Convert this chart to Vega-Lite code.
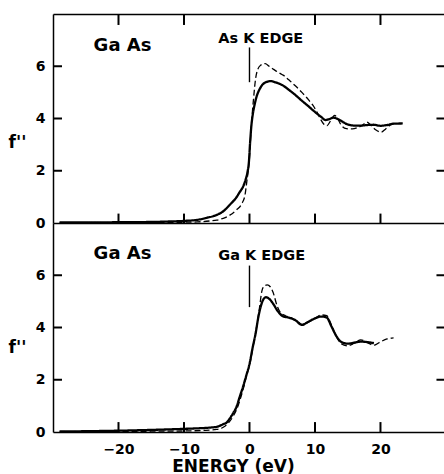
{
  "$schema": "https://vega.github.io/schema/vega-lite/v6.json",
  "background": "white",
  "padding": {"left": 8, "top": 13, "right": 0, "bottom": 0},
  "spacing": 0,
  "bounds": "flush",
  "config": {
    "view": {"stroke": null},
    "axis": {
      "domainColor": "black", "domainWidth": 1.5, "ticks": false,
      "grid": false, "labelFont": "DejaVu Sans", "labelFontWeight": "bold", "labelFontSize": 14,
      "labelColor": "black", "titleFont": "DejaVu Sans", "titleFontWeight": "bold", "titleColor": "black"
    }
  },
  "datasets": {
    "curves": [
      {"panel": "As", "series": "solid", "energy": -29, "f": 0.02},
      {"panel": "As", "series": "solid", "energy": -25, "f": 0.02},
      {"panel": "As", "series": "solid", "energy": -20, "f": 0.03},
      {"panel": "As", "series": "solid", "energy": -15, "f": 0.04},
      {"panel": "As", "series": "solid", "energy": -12, "f": 0.06},
      {"panel": "As", "series": "solid", "energy": -10, "f": 0.08},
      {"panel": "As", "series": "solid", "energy": -8, "f": 0.12},
      {"panel": "As", "series": "solid", "energy": -6.5, "f": 0.2},
      {"panel": "As", "series": "solid", "energy": -5, "f": 0.31},
      {"panel": "As", "series": "solid", "energy": -4, "f": 0.45},
      {"panel": "As", "series": "solid", "energy": -3, "f": 0.7},
      {"panel": "As", "series": "solid", "energy": -2, "f": 0.98},
      {"panel": "As", "series": "solid", "energy": -1.5, "f": 1.18},
      {"panel": "As", "series": "solid", "energy": -1, "f": 1.38},
      {"panel": "As", "series": "solid", "energy": -0.6, "f": 1.65},
      {"panel": "As", "series": "solid", "energy": -0.3, "f": 1.95},
      {"panel": "As", "series": "solid", "energy": -0.1, "f": 2.3},
      {"panel": "As", "series": "solid", "energy": 0.1, "f": 3.1},
      {"panel": "As", "series": "solid", "energy": 0.3, "f": 3.75},
      {"panel": "As", "series": "solid", "energy": 0.5, "f": 4.15},
      {"panel": "As", "series": "solid", "energy": 0.8, "f": 4.55},
      {"panel": "As", "series": "solid", "energy": 1.1, "f": 4.85},
      {"panel": "As", "series": "solid", "energy": 1.5, "f": 5.1},
      {"panel": "As", "series": "solid", "energy": 2, "f": 5.3},
      {"panel": "As", "series": "solid", "energy": 2.6, "f": 5.4},
      {"panel": "As", "series": "solid", "energy": 3.2, "f": 5.43},
      {"panel": "As", "series": "solid", "energy": 4, "f": 5.38},
      {"panel": "As", "series": "solid", "energy": 5, "f": 5.28},
      {"panel": "As", "series": "solid", "energy": 6, "f": 5.1},
      {"panel": "As", "series": "solid", "energy": 7, "f": 4.9},
      {"panel": "As", "series": "solid", "energy": 8, "f": 4.68},
      {"panel": "As", "series": "solid", "energy": 9, "f": 4.47},
      {"panel": "As", "series": "solid", "energy": 10, "f": 4.25},
      {"panel": "As", "series": "solid", "energy": 11, "f": 4.05},
      {"panel": "As", "series": "solid", "energy": 11.6, "f": 3.94},
      {"panel": "As", "series": "solid", "energy": 12.2, "f": 3.98},
      {"panel": "As", "series": "solid", "energy": 12.8, "f": 4.03},
      {"panel": "As", "series": "solid", "energy": 13.5, "f": 3.98},
      {"panel": "As", "series": "solid", "energy": 14.3, "f": 3.86},
      {"panel": "As", "series": "solid", "energy": 15, "f": 3.77},
      {"panel": "As", "series": "solid", "energy": 16, "f": 3.73},
      {"panel": "As", "series": "solid", "energy": 17, "f": 3.73},
      {"panel": "As", "series": "solid", "energy": 18, "f": 3.75},
      {"panel": "As", "series": "solid", "energy": 19, "f": 3.76},
      {"panel": "As", "series": "solid", "energy": 20, "f": 3.72},
      {"panel": "As", "series": "solid", "energy": 21, "f": 3.75},
      {"panel": "As", "series": "solid", "energy": 22, "f": 3.8},
      {"panel": "As", "series": "solid", "energy": 23.4, "f": 3.81},
      {"panel": "As", "series": "dashed", "energy": -29, "f": 0.0},
      {"panel": "As", "series": "dashed", "energy": -20, "f": 0.01},
      {"panel": "As", "series": "dashed", "energy": -15, "f": 0.02},
      {"panel": "As", "series": "dashed", "energy": -10, "f": 0.03},
      {"panel": "As", "series": "dashed", "energy": -8, "f": 0.04},
      {"panel": "As", "series": "dashed", "energy": -6, "f": 0.08},
      {"panel": "As", "series": "dashed", "energy": -5, "f": 0.11},
      {"panel": "As", "series": "dashed", "energy": -4, "f": 0.18},
      {"panel": "As", "series": "dashed", "energy": -3, "f": 0.3},
      {"panel": "As", "series": "dashed", "energy": -2, "f": 0.5},
      {"panel": "As", "series": "dashed", "energy": -1.2, "f": 0.73},
      {"panel": "As", "series": "dashed", "energy": -0.7, "f": 1.05},
      {"panel": "As", "series": "dashed", "energy": -0.4, "f": 1.6},
      {"panel": "As", "series": "dashed", "energy": -0.15, "f": 2.1},
      {"panel": "As", "series": "dashed", "energy": 0, "f": 2.5},
      {"panel": "As", "series": "dashed", "energy": 0.25, "f": 3.6},
      {"panel": "As", "series": "dashed", "energy": 0.6, "f": 4.7},
      {"panel": "As", "series": "dashed", "energy": 0.95, "f": 5.55},
      {"panel": "As", "series": "dashed", "energy": 1.3, "f": 5.9},
      {"panel": "As", "series": "dashed", "energy": 1.7, "f": 6.04},
      {"panel": "As", "series": "dashed", "energy": 2.4, "f": 6.1},
      {"panel": "As", "series": "dashed", "energy": 3, "f": 6.0},
      {"panel": "As", "series": "dashed", "energy": 3.7, "f": 5.88},
      {"panel": "As", "series": "dashed", "energy": 4.5, "f": 5.75},
      {"panel": "As", "series": "dashed", "energy": 5.2, "f": 5.65},
      {"panel": "As", "series": "dashed", "energy": 6, "f": 5.48},
      {"panel": "As", "series": "dashed", "energy": 7, "f": 5.25},
      {"panel": "As", "series": "dashed", "energy": 8, "f": 5.0},
      {"panel": "As", "series": "dashed", "energy": 9, "f": 4.72},
      {"panel": "As", "series": "dashed", "energy": 9.7, "f": 4.5},
      {"panel": "As", "series": "dashed", "energy": 10.3, "f": 4.25},
      {"panel": "As", "series": "dashed", "energy": 10.8, "f": 4.0},
      {"panel": "As", "series": "dashed", "energy": 11.3, "f": 3.8},
      {"panel": "As", "series": "dashed", "energy": 11.8, "f": 3.72},
      {"panel": "As", "series": "dashed", "energy": 12.4, "f": 3.92},
      {"panel": "As", "series": "dashed", "energy": 13, "f": 4.12},
      {"panel": "As", "series": "dashed", "energy": 13.5, "f": 3.98},
      {"panel": "As", "series": "dashed", "energy": 14, "f": 3.75},
      {"panel": "As", "series": "dashed", "energy": 14.8, "f": 3.61},
      {"panel": "As", "series": "dashed", "energy": 15.7, "f": 3.6},
      {"panel": "As", "series": "dashed", "energy": 16.5, "f": 3.65},
      {"panel": "As", "series": "dashed", "energy": 17.3, "f": 3.75},
      {"panel": "As", "series": "dashed", "energy": 17.9, "f": 3.86},
      {"panel": "As", "series": "dashed", "energy": 18.5, "f": 3.75},
      {"panel": "As", "series": "dashed", "energy": 19.2, "f": 3.58},
      {"panel": "As", "series": "dashed", "energy": 20.1, "f": 3.48},
      {"panel": "As", "series": "dashed", "energy": 20.8, "f": 3.6},
      {"panel": "As", "series": "dashed", "energy": 21.5, "f": 3.75},
      {"panel": "As", "series": "dashed", "energy": 22, "f": 3.8},
      {"panel": "Ga", "series": "solid", "energy": -29, "f": 0.02},
      {"panel": "Ga", "series": "solid", "energy": -25, "f": 0.03},
      {"panel": "Ga", "series": "solid", "energy": -20, "f": 0.05},
      {"panel": "Ga", "series": "solid", "energy": -15, "f": 0.08},
      {"panel": "Ga", "series": "solid", "energy": -10, "f": 0.12},
      {"panel": "Ga", "series": "solid", "energy": -8, "f": 0.14},
      {"panel": "Ga", "series": "solid", "energy": -6, "f": 0.17},
      {"panel": "Ga", "series": "solid", "energy": -5, "f": 0.2},
      {"panel": "Ga", "series": "solid", "energy": -4, "f": 0.3},
      {"panel": "Ga", "series": "solid", "energy": -3.5, "f": 0.36},
      {"panel": "Ga", "series": "solid", "energy": -3, "f": 0.52},
      {"panel": "Ga", "series": "solid", "energy": -2.5, "f": 0.72},
      {"panel": "Ga", "series": "solid", "energy": -2, "f": 0.95},
      {"panel": "Ga", "series": "solid", "energy": -1.5, "f": 1.34},
      {"panel": "Ga", "series": "solid", "energy": -1, "f": 1.72},
      {"panel": "Ga", "series": "solid", "energy": -0.5, "f": 2.15},
      {"panel": "Ga", "series": "solid", "energy": 0, "f": 2.6},
      {"panel": "Ga", "series": "solid", "energy": 0.5, "f": 3.25},
      {"panel": "Ga", "series": "solid", "energy": 0.9, "f": 3.72},
      {"panel": "Ga", "series": "solid", "energy": 1.4, "f": 4.46},
      {"panel": "Ga", "series": "solid", "energy": 1.9, "f": 4.95},
      {"panel": "Ga", "series": "solid", "energy": 2.5, "f": 5.16},
      {"panel": "Ga", "series": "solid", "energy": 3, "f": 5.1},
      {"panel": "Ga", "series": "solid", "energy": 3.5, "f": 4.95},
      {"panel": "Ga", "series": "solid", "energy": 4.4, "f": 4.6},
      {"panel": "Ga", "series": "solid", "energy": 5.2, "f": 4.42},
      {"panel": "Ga", "series": "solid", "energy": 6, "f": 4.38},
      {"panel": "Ga", "series": "solid", "energy": 7, "f": 4.28},
      {"panel": "Ga", "series": "solid", "energy": 8, "f": 4.1},
      {"panel": "Ga", "series": "solid", "energy": 9, "f": 4.22},
      {"panel": "Ga", "series": "solid", "energy": 10, "f": 4.35},
      {"panel": "Ga", "series": "solid", "energy": 11, "f": 4.42},
      {"panel": "Ga", "series": "solid", "energy": 11.8, "f": 4.38},
      {"panel": "Ga", "series": "solid", "energy": 12.5, "f": 4.05},
      {"panel": "Ga", "series": "solid", "energy": 13.2, "f": 3.7},
      {"panel": "Ga", "series": "solid", "energy": 14, "f": 3.45},
      {"panel": "Ga", "series": "solid", "energy": 15, "f": 3.38},
      {"panel": "Ga", "series": "solid", "energy": 16, "f": 3.42},
      {"panel": "Ga", "series": "solid", "energy": 17, "f": 3.46},
      {"panel": "Ga", "series": "solid", "energy": 18, "f": 3.44},
      {"panel": "Ga", "series": "solid", "energy": 19, "f": 3.4},
      {"panel": "Ga", "series": "dashed", "energy": -29, "f": 0.0},
      {"panel": "Ga", "series": "dashed", "energy": -20, "f": 0.02},
      {"panel": "Ga", "series": "dashed", "energy": -15, "f": 0.03},
      {"panel": "Ga", "series": "dashed", "energy": -10, "f": 0.04},
      {"panel": "Ga", "series": "dashed", "energy": -7, "f": 0.06},
      {"panel": "Ga", "series": "dashed", "energy": -5, "f": 0.1},
      {"panel": "Ga", "series": "dashed", "energy": -4, "f": 0.18},
      {"panel": "Ga", "series": "dashed", "energy": -3.2, "f": 0.35},
      {"panel": "Ga", "series": "dashed", "energy": -2.5, "f": 0.6},
      {"panel": "Ga", "series": "dashed", "energy": -1.9, "f": 0.9},
      {"panel": "Ga", "series": "dashed", "energy": -1.3, "f": 1.35},
      {"panel": "Ga", "series": "dashed", "energy": -0.9, "f": 1.7},
      {"panel": "Ga", "series": "dashed", "energy": -0.4, "f": 2.2},
      {"panel": "Ga", "series": "dashed", "energy": 0, "f": 2.55},
      {"panel": "Ga", "series": "dashed", "energy": 0.5, "f": 3.2},
      {"panel": "Ga", "series": "dashed", "energy": 1, "f": 3.9},
      {"panel": "Ga", "series": "dashed", "energy": 1.5, "f": 4.7},
      {"panel": "Ga", "series": "dashed", "energy": 1.9, "f": 5.4},
      {"panel": "Ga", "series": "dashed", "energy": 2.3, "f": 5.6},
      {"panel": "Ga", "series": "dashed", "energy": 2.7, "f": 5.63},
      {"panel": "Ga", "series": "dashed", "energy": 3.2, "f": 5.55},
      {"panel": "Ga", "series": "dashed", "energy": 3.6, "f": 5.35},
      {"panel": "Ga", "series": "dashed", "energy": 4.2, "f": 4.84},
      {"panel": "Ga", "series": "dashed", "energy": 4.8, "f": 4.55},
      {"panel": "Ga", "series": "dashed", "energy": 5.5, "f": 4.45},
      {"panel": "Ga", "series": "dashed", "energy": 6.5, "f": 4.35},
      {"panel": "Ga", "series": "dashed", "energy": 7.5, "f": 4.2},
      {"panel": "Ga", "series": "dashed", "energy": 8, "f": 4.12},
      {"panel": "Ga", "series": "dashed", "energy": 9, "f": 4.2},
      {"panel": "Ga", "series": "dashed", "energy": 10, "f": 4.35},
      {"panel": "Ga", "series": "dashed", "energy": 11, "f": 4.48},
      {"panel": "Ga", "series": "dashed", "energy": 11.8, "f": 4.45},
      {"panel": "Ga", "series": "dashed", "energy": 12.5, "f": 4.1},
      {"panel": "Ga", "series": "dashed", "energy": 13.2, "f": 3.7},
      {"panel": "Ga", "series": "dashed", "energy": 14, "f": 3.38},
      {"panel": "Ga", "series": "dashed", "energy": 15, "f": 3.3},
      {"panel": "Ga", "series": "dashed", "energy": 16, "f": 3.4},
      {"panel": "Ga", "series": "dashed", "energy": 17, "f": 3.53},
      {"panel": "Ga", "series": "dashed", "energy": 18, "f": 3.42},
      {"panel": "Ga", "series": "dashed", "energy": 19, "f": 3.32},
      {"panel": "Ga", "series": "dashed", "energy": 20, "f": 3.45},
      {"panel": "Ga", "series": "dashed", "energy": 21, "f": 3.56},
      {"panel": "Ga", "series": "dashed", "energy": 22, "f": 3.6}
    ],
    "markers": [
      {"panel": "As", "energy": 0, "low": 5.39, "high": 6.72},
      {"panel": "Ga", "energy": 0, "low": 4.78, "high": 6.37}
    ],
    "labels": [
      {"panel": "As", "kind": "sample", "energy": -23.8, "f": 6.76, "text": "Ga As"},
      {"panel": "As", "kind": "edge", "energy": -4.76, "f": 7.04, "text": "As K EDGE"},
      {"panel": "Ga", "kind": "sample", "energy": -23.8, "f": 6.82, "text": "Ga As"},
      {"panel": "Ga", "kind": "edge", "energy": -4.76, "f": 6.72, "text": "Ga K EDGE"}
    ],
    "xticks": [
      {"panel": "As", "energy": -20, "lo": 0, "hi": 0.36},
      {"panel": "As", "energy": -10, "lo": 0, "hi": 0.36},
      {"panel": "As", "energy": 0, "lo": 0, "hi": 0.36},
      {"panel": "As", "energy": 10, "lo": 0, "hi": 0.36},
      {"panel": "As", "energy": 20, "lo": 0, "hi": 0.36},
      {"panel": "As", "energy": -20, "lo": 7.58, "hi": 8},
      {"panel": "As", "energy": -10, "lo": 7.58, "hi": 8},
      {"panel": "As", "energy": 10, "lo": 7.58, "hi": 8},
      {"panel": "As", "energy": 20, "lo": 7.58, "hi": 8},
      {"panel": "Ga", "energy": -20, "lo": 0, "hi": 0.38},
      {"panel": "Ga", "energy": -10, "lo": 0, "hi": 0.38},
      {"panel": "Ga", "energy": 0, "lo": 0, "hi": 0.38},
      {"panel": "Ga", "energy": 10, "lo": 0, "hi": 0.38},
      {"panel": "Ga", "energy": 20, "lo": 0, "hi": 0.38}
    ],
    "yticks": [
      {"panel": "As", "f": 2, "lo": -30, "hi": -28.63},
      {"panel": "As", "f": 4, "lo": -30, "hi": -28.63},
      {"panel": "As", "f": 6, "lo": -30, "hi": -28.63},
      {"panel": "As", "f": 2, "lo": 28.55, "hi": 29.7},
      {"panel": "As", "f": 4, "lo": 28.55, "hi": 29.7},
      {"panel": "As", "f": 6, "lo": 28.55, "hi": 29.7},
      {"panel": "Ga", "f": 2, "lo": -30, "hi": -28.63},
      {"panel": "Ga", "f": 4, "lo": -30, "hi": -28.63},
      {"panel": "Ga", "f": 6, "lo": -30, "hi": -28.63},
      {"panel": "Ga", "f": 2, "lo": 28.55, "hi": 29.7},
      {"panel": "Ga", "f": 4, "lo": 28.55, "hi": 29.7},
      {"panel": "Ga", "f": 6, "lo": 28.55, "hi": 29.7}
    ]
  },
  "vconcat": [
    {
      "width": 391,
      "height": 209,
      "layer": [
        {
          "data": {"name": "curves"},
          "transform": [{"filter": "datum.panel === 'As'"}],
          "mark": {"type": "line", "interpolate": "monotone", "color": "black"},
          "encoding": {
            "x": {"field": "energy", "type": "quantitative",
                  "scale": {"domain": [-30, 29.7], "nice": false, "zero": false},
                  "axis": {"orient": "bottom", "domain": true, "labels": false, "title": null}},
            "y": {"field": "f", "type": "quantitative",
                  "scale": {"domain": [0, 8], "nice": false},
                  "axis": {"orient": "left", "domain": true, "labelPadding": 8, "values": [0, 2, 4, 6],
                           "title": "f''", "titleAngle": 0, "titleFontSize": 17, "titleAlign": "center", "titleBaseline": "middle",
                           "titleX": -36, "titleY": 128}},
            "strokeDash": {"field": "series", "type": "nominal",
                           "scale": {"domain": ["solid", "dashed"], "range": [[1, 0], [6, 3]]}, "legend": null},
            "strokeWidth": {"field": "series", "type": "nominal",
                            "scale": {"domain": ["solid", "dashed"], "range": [2.3, 1.3]}, "legend": null}
          }
        },
        {
          "data": {"name": "markers"},
          "transform": [{"filter": "datum.panel === 'As'"}],
          "mark": {"type": "rule", "color": "black", "strokeWidth": 1.4},
          "encoding": {
            "x": {"field": "energy", "type": "quantitative",
                  "axis": {"orient": "top", "domain": true, "labels": false, "title": null}},
            "y": {"field": "low", "type": "quantitative", "axis": null},
            "y2": {"field": "high"}
          }
        },
        {
          "data": {"name": "labels"},
          "transform": [{"filter": "datum.panel === 'As' && datum.kind === 'sample'"}],
          "mark": {"type": "text", "align": "left", "baseline": "middle", "font": "DejaVu Sans", "fontWeight": "bold", "fontSize": 18, "color": "black"},
          "encoding": {
            "x": {"field": "energy", "type": "quantitative", "axis": null},
            "y": {"field": "f", "type": "quantitative", "axis": null},
            "text": {"field": "text"}
          }
        },
        {
          "data": {"name": "labels"},
          "transform": [{"filter": "datum.panel === 'As' && datum.kind === 'edge'"}],
          "mark": {"type": "text", "align": "left", "baseline": "middle", "font": "DejaVu Sans", "fontWeight": "bold", "fontSize": 14.5, "color": "black"},
          "encoding": {
            "x": {"field": "energy", "type": "quantitative", "axis": null},
            "y": {"field": "f", "type": "quantitative", "axis": null},
            "text": {"field": "text"}
          }
        },
        {
          "data": {"name": "xticks"},
          "transform": [{"filter": "datum.panel === 'As'"}],
          "mark": {"type": "rule", "color": "black", "strokeWidth": 2},
          "encoding": {
            "x": {"field": "energy", "type": "quantitative", "axis": null},
            "y": {"field": "lo", "type": "quantitative", "axis": null},
            "y2": {"field": "hi"}
          }
        },
        {
          "data": {"name": "yticks"},
          "transform": [{"filter": "datum.panel === 'As'"}],
          "mark": {"type": "rule", "color": "black", "strokeWidth": 2},
          "encoding": {
            "y": {"field": "f", "type": "quantitative", "axis": null},
            "x": {"field": "lo", "type": "quantitative", "axis": null},
            "x2": {"field": "hi"}
          }
        }
      ],
      "resolve": {"axis": {"x": "independent", "y": "independent"}}
    },
    {
      "width": 391,
      "height": 209,
      "layer": [
        {
          "data": {"name": "curves"},
          "transform": [{"filter": "datum.panel === 'Ga'"}],
          "mark": {"type": "line", "interpolate": "monotone", "color": "black"},
          "encoding": {
            "x": {"field": "energy", "type": "quantitative",
                  "scale": {"domain": [-30, 29.7], "nice": false, "zero": false},
                  "axis": {"orient": "bottom", "domain": true, "labelPadding": 10,
                           "values": [-20, -10, 0, 10, 20],
                           "title": "ENERGY (eV)", "titleFontSize": 17, "titleAlign": "center", "titleBaseline": "middle",
                           "titleX": 180, "titleY": 34}},
            "y": {"field": "f", "type": "quantitative",
                  "scale": {"domain": [0, 8], "nice": false},
                  "axis": {"orient": "left", "domain": true, "labelPadding": 8, "values": [0, 2, 4, 6],
                           "title": "f''", "titleAngle": 0, "titleFontSize": 17, "titleAlign": "center", "titleBaseline": "middle",
                           "titleX": -36, "titleY": 124}},
            "strokeDash": {"field": "series", "type": "nominal",
                           "scale": {"domain": ["solid", "dashed"], "range": [[1, 0], [6, 3]]}, "legend": null},
            "strokeWidth": {"field": "series", "type": "nominal",
                            "scale": {"domain": ["solid", "dashed"], "range": [2.3, 1.3]}, "legend": null}
          }
        },
        {
          "data": {"name": "markers"},
          "transform": [{"filter": "datum.panel === 'Ga'"}],
          "mark": {"type": "rule", "color": "black", "strokeWidth": 1.4},
          "encoding": {
            "x": {"field": "energy", "type": "quantitative", "axis": null},
            "y": {"field": "low", "type": "quantitative", "axis": null},
            "y2": {"field": "high"}
          }
        },
        {
          "data": {"name": "labels"},
          "transform": [{"filter": "datum.panel === 'Ga' && datum.kind === 'sample'"}],
          "mark": {"type": "text", "align": "left", "baseline": "middle", "font": "DejaVu Sans", "fontWeight": "bold", "fontSize": 18, "color": "black"},
          "encoding": {
            "x": {"field": "energy", "type": "quantitative", "axis": null},
            "y": {"field": "f", "type": "quantitative", "axis": null},
            "text": {"field": "text"}
          }
        },
        {
          "data": {"name": "labels"},
          "transform": [{"filter": "datum.panel === 'Ga' && datum.kind === 'edge'"}],
          "mark": {"type": "text", "align": "left", "baseline": "middle", "font": "DejaVu Sans", "fontWeight": "bold", "fontSize": 14.5, "color": "black"},
          "encoding": {
            "x": {"field": "energy", "type": "quantitative", "axis": null},
            "y": {"field": "f", "type": "quantitative", "axis": null},
            "text": {"field": "text"}
          }
        },
        {
          "data": {"name": "xticks"},
          "transform": [{"filter": "datum.panel === 'Ga'"}],
          "mark": {"type": "rule", "color": "black", "strokeWidth": 2},
          "encoding": {
            "x": {"field": "energy", "type": "quantitative", "axis": null},
            "y": {"field": "lo", "type": "quantitative", "axis": null},
            "y2": {"field": "hi"}
          }
        },
        {
          "data": {"name": "yticks"},
          "transform": [{"filter": "datum.panel === 'Ga'"}],
          "mark": {"type": "rule", "color": "black", "strokeWidth": 2},
          "encoding": {
            "y": {"field": "f", "type": "quantitative", "axis": null},
            "x": {"field": "lo", "type": "quantitative", "axis": null},
            "x2": {"field": "hi"}
          }
        }
      ],
      "resolve": {"axis": {"x": "independent", "y": "independent"}}
    }
  ]
}
